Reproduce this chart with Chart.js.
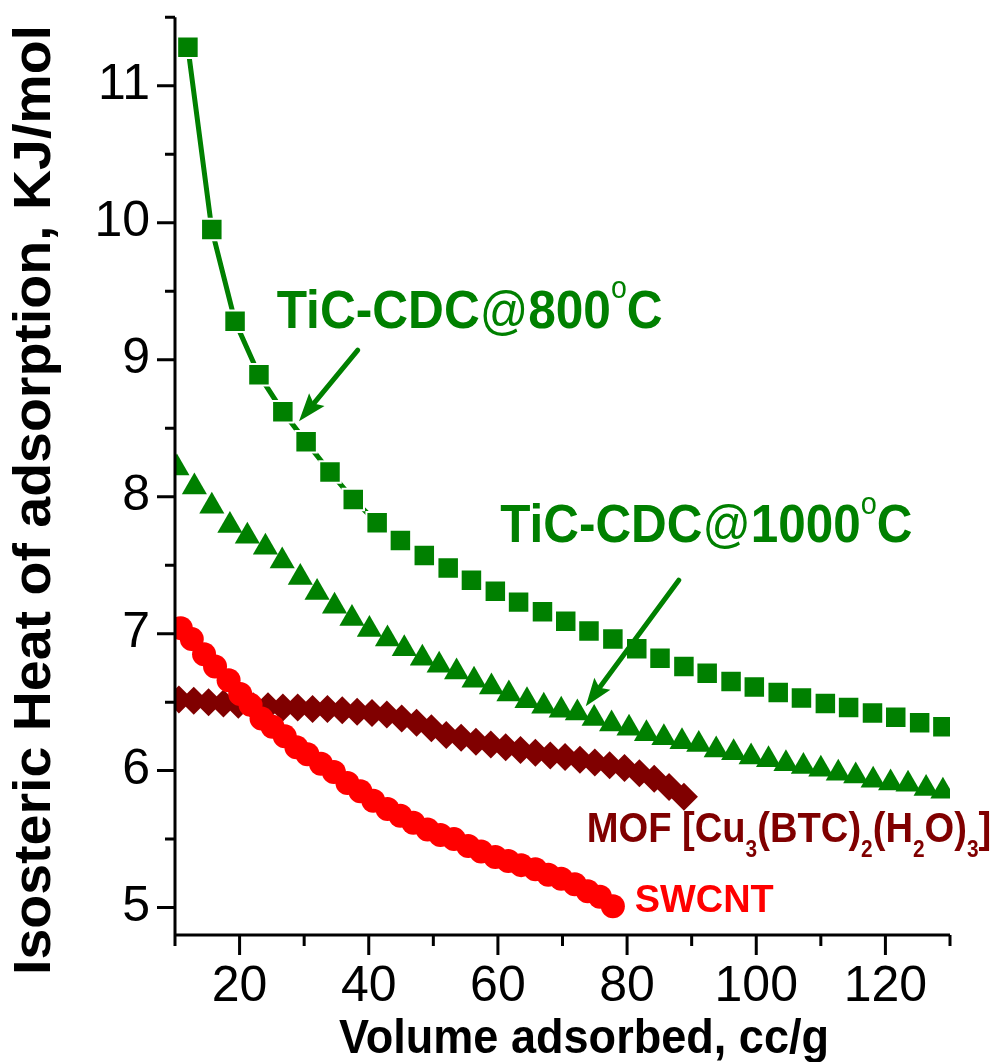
<!DOCTYPE html>
<html>
<head>
<meta charset="utf-8">
<script src="https://cdn.jsdelivr.net/npm/chart.js@4"></script>
<style>
  html, body { margin: 0; padding: 0; background: #fff; }
  #wrap { width: 994px; height: 1062px; }
</style>
</head>
<body>
<div id="wrap"><canvas id="chart" width="994" height="1062"></canvas></div>
<script>
// axis ticks
const xTicks = [20, 40, 60, 80, 100, 120];
const xMinorTicks = [10, 30, 50, 70, 90, 110, 130];
const yTicks = [5, 6, 7, 8, 9, 10, 11];
const yMinorTicks = [5.5, 6.5, 7.5, 8.5, 9.5, 10.5, 11.5];

// TiC-CDC@800 (squares)
const tic800X = [12.0, 15.7, 19.3, 23.0, 26.7, 30.3, 34.0, 37.6, 41.3, 44.9, 48.6, 52.3, 55.9, 59.6, 63.2, 66.9, 70.5,
  74.1, 77.8, 81.5, 85.1, 88.8, 92.4, 96.1, 99.7, 103.4, 107.0, 110.7, 114.3, 118.0, 121.6, 125.3, 128.9];
const tic800Y = [11.28, 9.95, 9.28, 8.89, 8.62, 8.40, 8.18, 7.98, 7.81, 7.68, 7.57, 7.48, 7.39, 7.31, 7.23, 7.16, 7.09,
  7.02, 6.96, 6.89, 6.82, 6.76, 6.71, 6.65, 6.61, 6.57, 6.53, 6.49, 6.46, 6.42, 6.39, 6.35, 6.32];

// TiC-CDC@1000 (triangles)
const tic1000X = [10.3, 13.0, 15.7, 18.5, 21.2, 24.0, 26.6, 29.4, 32.0, 34.7, 37.4, 40.1, 42.9, 45.5, 48.3,
  50.9, 53.6, 56.3, 59.0, 61.7, 64.5, 67.1, 69.8, 72.3, 74.9, 77.6, 80.3, 83.0, 85.7, 88.5,
  91.1, 93.8, 96.5, 99.2, 101.9, 104.6, 107.3, 110.0, 112.7, 115.4, 118.1, 120.8, 123.5, 126.3, 128.9];
const tic1000Y = [8.21, 8.07, 7.93, 7.79, 7.71, 7.63, 7.53, 7.41, 7.30, 7.20, 7.11, 7.03, 6.96, 6.89, 6.82,
  6.77, 6.72, 6.66, 6.61, 6.56, 6.51, 6.47, 6.44, 6.42, 6.38, 6.34, 6.31, 6.27, 6.24, 6.21,
  6.19, 6.15, 6.13, 6.10, 6.08, 6.05, 6.03, 6.01, 5.98, 5.96, 5.93, 5.91, 5.90, 5.87, 5.85];

// MOF [Cu3(BTC)2(H2O)3] (diamonds)
const mofX = [10.6, 12.9, 15.2, 17.5, 19.8, 22.1, 24.4, 26.7, 29.0, 31.3, 33.6, 35.9, 38.2, 40.5, 42.8, 45.1, 47.4, 49.7,
  52.0, 54.3, 56.6, 58.9, 61.2, 63.5, 65.8, 68.1, 70.4, 72.7, 75.0, 77.3, 79.6, 81.9, 84.2, 86.5, 88.8];
const mofY = [6.52, 6.51, 6.50, 6.49, 6.48, 6.47, 6.47, 6.46, 6.46, 6.45, 6.45, 6.44, 6.43, 6.42, 6.41, 6.38, 6.35, 6.31,
  6.26, 6.24, 6.21, 6.19, 6.17, 6.15, 6.13, 6.11, 6.10, 6.08, 6.06, 6.04, 6.02, 5.98, 5.94, 5.88, 5.81];

// SWCNT (circles)
const swcntX = [10.9, 12.6, 14.5, 16.2, 18.3, 20.1, 21.7, 23.4, 25.1, 27.0, 28.8, 30.5, 32.6, 34.6, 36.7, 38.7, 40.7, 42.9,
  44.9, 46.9, 49.1, 51.1, 53.2, 55.4, 57.4, 59.6, 61.6, 63.6, 65.8, 67.8, 69.8, 71.9, 73.9, 75.8, 77.8];
const swcntY = [7.04, 6.96, 6.85, 6.76, 6.66, 6.56, 6.48, 6.38, 6.32, 6.25, 6.17, 6.12, 6.05, 5.99, 5.91, 5.85, 5.78, 5.72,
  5.67, 5.62, 5.57, 5.53, 5.50, 5.45, 5.41, 5.37, 5.34, 5.31, 5.28, 5.24, 5.21, 5.17, 5.12, 5.08, 5.01];

const green = "#008000";
const darkRed = "#800000";
const red = "#ff0000";
const FONT = '"Liberation Sans", Arial, sans-serif';

function pts(xs, ys) {
    return xs.map((x, i) => ({ x: x, y: ys[i] }));
}

// draw a row of text pieces, squeezed to a given width
function drawRuns(ctx, runs, x, y, width) {
    let natural = 0;
    runs.forEach(r => { ctx.font = r[1]; natural += ctx.measureText(r[0]).width; });
    ctx.save();
    ctx.translate(x, y);
    ctx.scale(width / natural, 1);
    let cx = 0;
    runs.forEach(r => {
        ctx.font = r[1];
        ctx.fillText(r[0], cx, r[2] || 0);
        cx += ctx.measureText(r[0]).width;
    });
    ctx.restore();
}

function drawArrow(ctx, x1, y1, x2, y2, color) {
    const dx = x2 - x1, dy = y2 - y1;
    const len = Math.hypot(dx, dy);
    const ux = dx / len, uy = dy / len;
    const headLen = 28, headW = 10;
    const bx = x2 - ux * headLen, by = y2 - uy * headLen;
    ctx.save();
    ctx.strokeStyle = color;
    ctx.fillStyle = color;
    ctx.lineWidth = 5;
    ctx.lineCap = "round";
    ctx.beginPath();
    ctx.moveTo(x1, y1);
    ctx.lineTo(bx + ux * 4, by + uy * 4);
    ctx.stroke();
    ctx.beginPath();
    ctx.moveTo(x2, y2);
    ctx.lineTo(bx - uy * headW, by + ux * headW);
    ctx.lineTo(bx + ux * 5, by + uy * 5);
    ctx.lineTo(bx + uy * headW, by - ux * headW);
    ctx.closePath();
    ctx.fill();
    ctx.restore();
}

const decor = {
    id: "decor",
    afterDraw(chart) {
        const ctx = chart.ctx;
        const xs = chart.scales.x, ys = chart.scales.y;
        const a = chart.chartArea;
        const px = v => xs.getPixelForValue(v);
        const py = v => ys.getPixelForValue(v);

        // axes and ticks
        ctx.save();
        ctx.strokeStyle = "#000";
        ctx.lineWidth = 3;
        ctx.beginPath();
        ctx.moveTo(a.left, a.top);
        ctx.lineTo(a.left, a.bottom);
        ctx.moveTo(a.left - 1.5, a.bottom);
        ctx.lineTo(a.right, a.bottom);
        yTicks.forEach(v => { ctx.moveTo(a.left, py(v)); ctx.lineTo(a.left - 18, py(v)); });
        yMinorTicks.forEach(v => { ctx.moveTo(a.left, py(v)); ctx.lineTo(a.left - 10, py(v)); });
        xTicks.forEach(v => { ctx.moveTo(px(v), a.bottom); ctx.lineTo(px(v), a.bottom + 20); });
        xMinorTicks.forEach(v => { ctx.moveTo(px(v), a.bottom); ctx.lineTo(px(v), a.bottom + 11); });
        ctx.stroke();
        ctx.restore();

        // axis titles
        ctx.save();
        ctx.fillStyle = "#000";
        ctx.textBaseline = "alphabetic";
        drawRuns(ctx, [["Volume adsorbed, cc/g", "bold 48px " + FONT]], 339, 1053, 490);
        ctx.translate(50, 975);
        ctx.rotate(-Math.PI / 2);
        drawRuns(ctx, [["Isosteric Heat of adsorption, KJ/mol", "bold 51px " + FONT]], 0, 0, 950);
        ctx.restore();

        // annotations
        ctx.save();
        ctx.textBaseline = "alphabetic";
        ctx.fillStyle = green;
        drawRuns(ctx, [
            ["TiC-CDC", "bold 54px " + FONT], ["@", "52px " + FONT], ["800", "bold 54px " + FONT],
            ["o", "31px " + FONT, -30], ["C", "bold 54px " + FONT]
        ], px(25.75), py(9.23), px(85.5) - px(25.75));
        drawRuns(ctx, [
            ["TiC-CDC", "bold 53px " + FONT], ["@", "51px " + FONT], ["1000", "bold 53px " + FONT],
            ["o", "31px " + FONT, -28], ["C", "bold 53px " + FONT]
        ], px(60.35), py(7.67), px(124.2) - px(60.35));
        drawArrow(ctx, px(38.3), py(9.07), px(29.2), py(8.55), green);
        drawArrow(ctx, px(88.0), py(7.39), px(73.6), py(6.47), green);

        ctx.fillStyle = darkRed;
        const big = "bold 42px " + FONT, sub = "bold 23px " + FONT;
        drawRuns(ctx, [
            ["MOF [Cu", big], ["3", sub, 15], ["(BTC)", big], ["2", sub, 15], ["(H", big], ["2", sub, 15],
            ["O)", big], ["3", sub, 15], ["]", big]
        ], px(73.74), py(5.476), px(136.4) - px(73.74));

        ctx.fillStyle = red;
        drawRuns(ctx, [["SWCNT", "bold 38px " + FONT]], px(81.2), py(4.97), px(102.7) - px(81.2));
        ctx.restore();
    }
};

new Chart(document.getElementById("chart").getContext("2d"), {
    type: "scatter",
    data: {
        datasets: [{
            label: "TiC-CDC@800",
            data: pts(tic800X, tic800Y),
            showLine: true,
            borderColor: green,
            borderWidth: 5,
            segment: {
                borderColor: c => c.p1DataIndex <= 8 ? green : "rgba(0,0,0,0)"
            },
            pointStyle: "rect",
            pointRadius: 15.2,
            pointBackgroundColor: green,
            pointBorderColor: "#ffffff",
            pointBorderWidth: 2,
            clip: 0
        }, {
            label: "TiC-CDC@1000",
            data: pts(tic1000X, tic1000Y),
            pointStyle: "triangle",
            pointRadius: 14.5,
            pointBackgroundColor: green,
            pointBorderWidth: 0,
            clip: 0
        }, {
            label: "SWCNT",
            data: pts(swcntX, swcntY),
            pointStyle: "circle",
            pointRadius: 12,
            pointBackgroundColor: red,
            pointBorderWidth: 0,
            clip: 0
        }, {
            label: "MOF",
            data: pts(mofX, mofY),
            pointStyle: "rectRot",
            pointRadius: 14,
            pointBackgroundColor: darkRed,
            pointBorderWidth: 0,
            clip: 0
        }]
    },
    options: {
        responsive: false,
        animation: false,
        devicePixelRatio: 1,
        layout: { padding: { left: 0, top: 8, right: 44, bottom: 0 } },
        plugins: { legend: { display: false }, tooltip: { enabled: false } },
        scales: {
            x: {
                type: "linear",
                min: 10,
                max: 130,
                afterBuildTicks: s => { s.ticks = xTicks.map(v => ({ value: v })); },
                afterFit: s => { s.height = 127; s.paddingLeft = 0; s.paddingRight = 0; },
                grid: { display: false, drawTicks: false, tickLength: 0 },
                border: { display: false },
                ticks: { color: "#000", padding: 22, maxRotation: 0, font: { family: FONT, size: 50 } }
            },
            y: {
                type: "linear",
                min: 4.8,
                max: 11.5,
                afterBuildTicks: s => { s.ticks = yTicks.map(v => ({ value: v })); },
                afterFit: s => { s.width = 175; s.paddingTop = 0; s.paddingBottom = 0; },
                grid: { display: false, drawTicks: false, tickLength: 0 },
                border: { display: false },
                ticks: { color: "#000", padding: 25, font: { family: FONT, size: 50 } }
            }
        }
    },
    plugins: [decor]
});
</script>
</body>
</html>
